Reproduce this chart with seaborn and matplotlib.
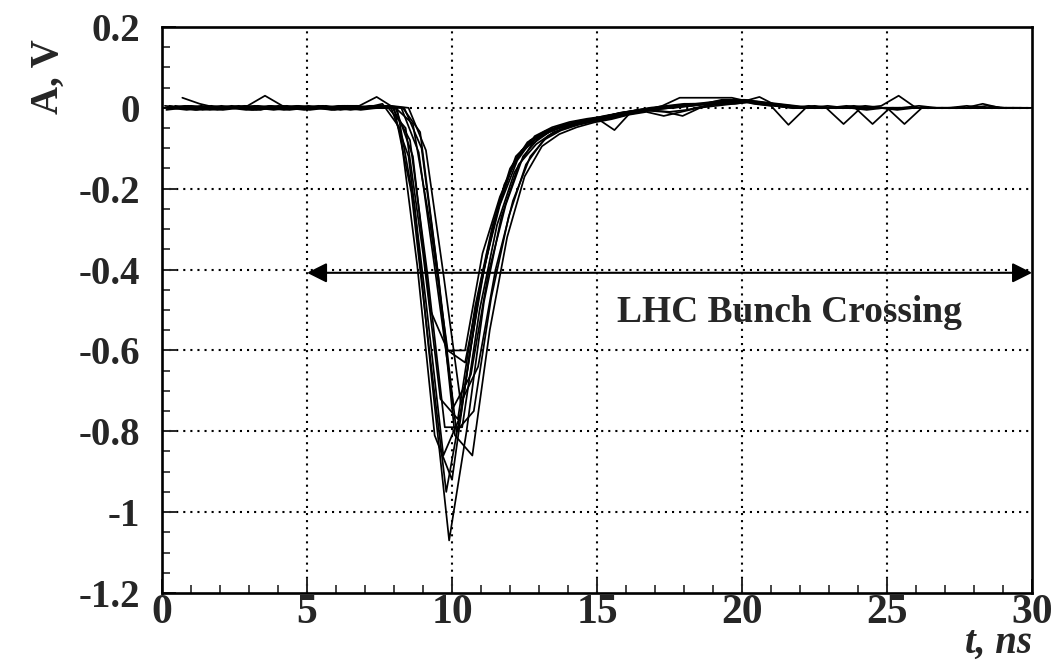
import numpy as np
import pandas as pd
import matplotlib
matplotlib.use("Agg")
import matplotlib.pyplot as plt
from matplotlib.ticker import MultipleLocator, FuncFormatter
import seaborn as sns

# ---------------- data ----------------
# each trace: start time (ns) and amplitude samples (V), sampling step 0.6 ns
dt = 0.6
t_start = [0.30, 0.15, 0.45, 0.25, 0.55, 0.20, 0.70, 0.10, 0.50, 0.25, 0.40, 0.00]

tr01 = [0.0, 0.005, 0.0, -0.005, 0.0, 0.005, 0.0, 0.0, -0.005, 0.0, 0.005, 0.0, 0.005,
        0.0, -0.24, -0.67, -1.07, -0.80, -0.48, -0.27, -0.14, -0.09, -0.06, -0.045, -0.036, -0.026, -0.014, -0.006,
        0.0, 0.005, 0.01, 0.01, 0.015, 0.02, 0.01, 0.005, 0.0, 0.005, 0.0, 0.0, -0.005, 0.0, 0.0, 0.005, 0.0, 0.0, 0.0, 0.0, 0.0, 0.0]
tr02 = [-0.005, 0.0, 0.005, 0.0, 0.0, -0.005, 0.005, 0.0, 0.0, 0.005, -0.005, 0.0, 0.0,
        0.0, -0.08, -0.41, -0.79, -0.79, -0.50, -0.29, -0.16, -0.09, -0.06, -0.044, -0.033, -0.026, -0.016, -0.008,
        -0.005, 0.0, 0.005, 0.01, 0.015, 0.02, 0.015, 0.005, 0.0, 0.0, 0.005, 0.0, 0.0, 0.0, -0.005, 0.0, 0.0, 0.0, 0.005, 0.0, 0.0, 0.0]
tr03 = [0.005, 0.0, -0.005, 0.0, 0.005, 0.0, 0.0, 0.005, 0.0, -0.005, 0.0, 0.0, 0.005,
        0.0, -0.11, -0.42, -0.74, -0.66, -0.41, -0.24, -0.12, -0.07, -0.05, -0.037, -0.029, -0.022, -0.013, -0.006,
        0.005, 0.025, 0.025, 0.025, 0.025, 0.015, 0.01, 0.005, 0.0, 0.0, 0.0, 0.005, 0.0, 0.0, 0.0, 0.0, 0.0, 0.0, 0.0, 0.0, 0.0, 0.0]
tr04 = [0.0, -0.005, 0.0, 0.005, 0.0, 0.0, -0.005, 0.0, 0.005, 0.0, 0.0, -0.005, 0.0,
        0.0, -0.12, -0.50, -0.60, -0.60, -0.36, -0.22, -0.12, -0.08, -0.055, -0.04, -0.03, -0.02, -0.012, -0.006,
        0.0, 0.005, 0.005, 0.01, 0.01, 0.015, 0.01, 0.005, 0.0, 0.0, 0.0, 0.0, 0.005, 0.0, 0.0, 0.0, 0.0, 0.0, 0.0, 0.005, 0.0, 0.0]
tr05 = [0.0, -0.005, 0.0, 0.0, 0.005, 0.03, 0.005, 0.0, 0.0, -0.005, 0.0, 0.005, 0.005,
        0.0, -0.10, -0.43, -0.80, -0.75, -0.47, -0.27, -0.14, -0.08, -0.056, -0.042, -0.032, -0.025, -0.015, -0.007,
        -0.01, -0.02, 0.0, 0.01, 0.01, 0.015, 0.01, 0.005, 0.0, 0.0, 0.0, 0.0, 0.0, 0.0, 0.0, 0.0, 0.0, 0.0, 0.0, 0.0, 0.0, 0.0]
tr06 = [0.0, 0.005, -0.005, 0.0, 0.0, 0.005, 0.0, -0.005, 0.0, 0.0, 0.005, 0.005, 0.027,
        0.0, -0.21, -0.59, -0.95, -0.71, -0.43, -0.24, -0.12, -0.076, -0.054, -0.04, -0.032, -0.023, -0.012, -0.006,
        0.0, 0.005, 0.01, 0.01, 0.015, 0.015, 0.027, 0.005, 0.0, 0.0, 0.0, 0.005, 0.0, 0.005, 0.03, 0.0, 0.0, 0.0, 0.0, 0.0, 0.0, 0.0]
tr07 = [0.025, 0.01, 0.0, 0.0, -0.005, 0.0, 0.005, 0.0, 0.0, 0.005, 0.0, 0.0, 0.005,
        0.0, -0.105, -0.41, -0.73, -0.64, -0.40, -0.23, -0.12, -0.07, -0.048, -0.036, -0.028, -0.021, -0.012, -0.006,
        -0.01, -0.005, 0.005, 0.01, 0.015, 0.015, 0.01, 0.005, 0.0, 0.0, 0.0, 0.0, 0.0, 0.0, 0.0, 0.0, 0.0, 0.0, 0.0, 0.0, 0.0, 0.0]
tr08 = [0.005, 0.0, 0.0, -0.005, 0.0, 0.0, 0.005, 0.0, -0.005, 0.0, 0.0, 0.005, 0.0,
        0.0, -0.12, -0.48, -0.86, -0.76, -0.47, -0.27, -0.14, -0.08, -0.057, -0.042, -0.033, -0.025, -0.015, -0.007,
        -0.005, 0.0, 0.005, 0.01, 0.02, 0.02, 0.01, 0.005, 0.0, 0.005, 0.0, -0.04, 0.0, 0.0, 0.0, 0.0, 0.0, 0.0, 0.0, 0.01, 0.0, 0.0]
tr09 = [0.0, 0.0, 0.005, 0.0, -0.005, 0.0, 0.0, 0.005, 0.0, 0.0, -0.005, 0.0, 0.0,
        0.0, -0.06, -0.40, -0.81, -0.86, -0.55, -0.32, -0.17, -0.095, -0.065, -0.048, -0.036, -0.028, -0.017, -0.01,
        -0.02, -0.01, 0.0, 0.005, 0.01, 0.015, 0.01, 0.005, 0.0, 0.0, 0.0, 0.0, -0.04, 0.0, 0.0, 0.0, 0.0, 0.0, 0.0, 0.0, 0.0, 0.0]
tr10 = [0.005, 0.0, 0.0, 0.0, 0.005, -0.005, 0.0, 0.0, 0.0, 0.005, 0.0, 0.0, 0.0,
        0.0, -0.04, -0.29, -0.60, -0.63, -0.41, -0.24, -0.13, -0.07, -0.048, -0.035, -0.027, -0.021, -0.013, -0.007,
        0.0, 0.0, 0.005, 0.01, 0.015, 0.02, 0.015, 0.01, 0.005, 0.0, 0.0, 0.0, 0.0, 0.0, 0.0, 0.0, 0.0, 0.0, 0.0, 0.0, 0.0, 0.0]
tr11 = [0.0, 0.005, 0.0, 0.0, 0.0, -0.005, 0.005, 0.0, 0.0, 0.0, 0.005, 0.0, 0.01,
        -0.05, -0.39, -0.81, -0.92, -0.61, -0.36, -0.19, -0.105, -0.07, -0.051, -0.039, -0.031, -0.019, -0.01, -0.003,
        0.0, 0.005, 0.01, 0.015, 0.02, 0.015, 0.01, 0.005, 0.0, 0.0, 0.0, 0.0, 0.0, 0.0, -0.04, 0.0, 0.0, 0.0, 0.0, 0.0, 0.0, 0.0]
tr12 = [0.0, 0.0, -0.005, 0.0, 0.005, 0.0, 0.0, -0.005, 0.0, 0.005, 0.0, 0.0, 0.0,
        0.0, -0.05, -0.36, -0.72, -0.77, -0.49, -0.29, -0.15, -0.085, -0.058, -0.043, -0.032, -0.026, -0.055, -0.008,
        0.0, 0.005, 0.01, 0.01, 0.015, 0.02, 0.01, 0.005, -0.042, 0.0, 0.0, 0.0, 0.0, 0.0, 0.0, 0.0, 0.0, 0.0, 0.0, 0.0, 0.0, 0.0]
traces = [tr01, tr02, tr03, tr04, tr05, tr06, tr07, tr08, tr09, tr10, tr11, tr12]

x_ticks = [0, 5, 10, 15, 20, 25, 30]
y_ticks = [0.2, 0, -0.2, -0.4, -0.6, -0.8, -1.0, -1.2]
arrow_span = (5, 30)
arrow_level = -0.408
label_text = "LHC Bunch Crossing"
label_pos = (21.65, -0.505)

# ---------------- build long table ----------------
rows = []
for i, (t0, vals) in enumerate(zip(t_start, traces)):
    for k, v in enumerate(vals):
        rows.append({"trace": i, "t": t0 + dt * k, "A": v})
df = pd.DataFrame(rows)

# ---------------- style ----------------
sns.set_style("ticks")
plt.rcParams["font.family"] = ["Liberation Serif", "DejaVu Serif"]
plt.rcParams["font.weight"] = "bold"

fig = plt.figure(figsize=(10.57, 6.65), dpi=100)
ax = fig.add_axes([0.1533, 0.1083, 0.9764 - 0.1533, 0.9594 - 0.1083])

sns.lineplot(data=df, x="t", y="A", units="trace", estimator=None,
             color="black", lw=1.25, ax=ax, legend=False, sort=False)

ax.set_xlim(0, 30)
ax.set_ylim(-1.2, 0.2)

# grid: dotted lines at major ticks
for xv in x_ticks[1:-1]:
    ax.axvline(xv, color="black", lw=1.5, ls=(0, (1, 2.4)), zorder=0)
for yv in y_ticks[1:-1]:
    ax.axhline(yv, color="black", lw=1.5, ls=(0, (1, 2.4)), zorder=0)

ax.set_xticks(x_ticks)
ax.set_yticks(y_ticks)
ax.xaxis.set_minor_locator(MultipleLocator(1))
ax.yaxis.set_minor_locator(MultipleLocator(0.05))

def yfmt(v, pos):
    if abs(v) < 1e-9:
        return "0"
    s = f"{v:.1f}"
    if s.endswith(".0"):
        s = s[:-2]
    return s

ax.yaxis.set_major_formatter(FuncFormatter(yfmt))
ax.xaxis.set_major_formatter(FuncFormatter(lambda v, p: f"{int(round(v))}"))

ax.tick_params(axis="both", which="major", direction="in", length=10, width=1.4,
               top=False, right=False)
ax.tick_params(axis="both", which="minor", direction="in", length=6, width=1.2,
               top=False, right=False)
ax.tick_params(axis="y", which="major", pad=16, labelsize=28)
ax.tick_params(axis="x", which="major", pad=1, labelsize=30)
for lab in ax.get_xticklabels() + ax.get_yticklabels():
    lab.set_fontweight("bold")

for sp in ax.spines.values():
    sp.set_visible(True)
    sp.set_linewidth(1.9)
    sp.set_color("black")

ax.set_xlabel("")
ax.set_ylabel("")

# axis titles
fig.text(0.046, 0.885, "A, V", rotation=90, ha="center", va="center",
         fontsize=28, fontweight="bold")
fig.text(0.976, 0.004, "t, ns", ha="right", va="bottom",
         fontsize=28, fontweight="bold", style="italic")

# LHC bunch crossing arrow
ax.annotate("", xy=(arrow_span[1], arrow_level), xytext=(arrow_span[0], arrow_level),
            arrowprops=dict(arrowstyle="<|-|>", color="black", lw=1.5,
                            mutation_scale=30, shrinkA=0, shrinkB=0),
            annotation_clip=False)
ax.text(label_pos[0], label_pos[1], label_text, ha="center", va="center",
        fontsize=27, fontweight="bold")

fig.savefig("out.png", dpi=100)
